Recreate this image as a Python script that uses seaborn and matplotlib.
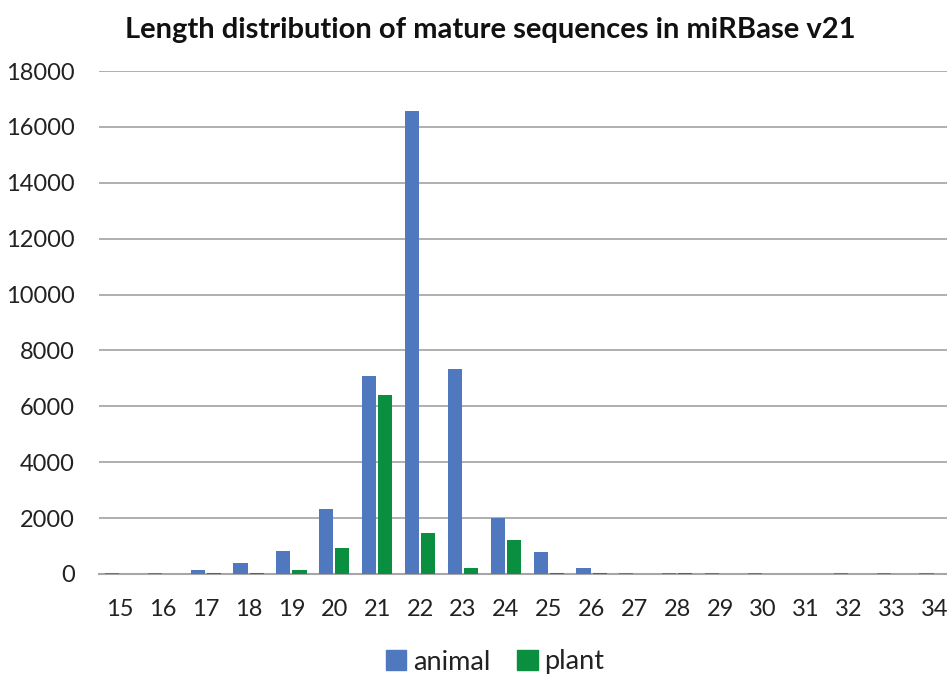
import pandas as pd
import matplotlib.pyplot as plt
import seaborn as sns

# === data ===
lengths = [15, 16, 17, 18, 19, 20, 21, 22, 23, 24, 25, 26, 27, 28, 29, 30, 31, 32, 33, 34]
animal = [50, 50, 140, 400, 820, 2330, 7090, 16570, 7340, 2000, 800, 200, 50, 50, 50, 50, 0, 50, 50, 50]
plant = [0, 0, 50, 50, 130, 930, 6400, 1470, 200, 1220, 50, 50, 0, 50, 0, 0, 0, 0, 0, 0]

df = pd.DataFrame({
    'length': [str(l) for l in lengths] * 2,
    'count': animal + plant,
    'group': ['animal'] * len(lengths) + ['plant'] * len(lengths),
})

sns.set_style('white')
plt.rcParams['font.family'] = ['Lato', 'DejaVu Sans']

fig = plt.figure(figsize=(9.47, 6.75), dpi=100)
ax = fig.add_axes([98.5 / 947, 1 - 574 / 675, 857.5 / 947, 503 / 675])

sns.barplot(
    data=df, x='length', y='count', hue='group',
    palette={'animal': '#5078BF', 'plant': '#0A8E40'},
    saturation=1, width=0.75, gap=0.12, linewidth=0,
    ax=ax, zorder=3, legend=False,
)

ax.set_ylim(0, 18000)
ax.set_yticks(range(0, 18001, 2000))
ax.yaxis.grid(True, color='#9a9a9a', linewidth=1.1, zorder=0)
ax.set_axisbelow(True)
for s in ['top', 'right', 'left']:
    ax.spines[s].set_visible(False)
ax.spines['bottom'].set_color('#a6a6a6')
ax.spines['bottom'].set_linewidth(1.5)
ax.tick_params(axis='both', length=0, labelsize=17, colors='#222222')
ax.tick_params(axis='x', pad=18)
ax.tick_params(axis='y', pad=17)
ax.set_xlabel('')
ax.set_ylabel('')

fig.text(490 / 947, 1 - 30 / 675, 'Length distribution of mature sequences in miRBase v21',
         ha='center', va='center', fontsize=21, fontweight='bold', color='#111111')

handles = [plt.Rectangle((0, 0), 1, 1, color='#5078BF'),
           plt.Rectangle((0, 0), 1, 1, color='#0A8E40')]
fig.legend(handles, ['animal', 'plant'], loc='center',
           bbox_to_anchor=(495 / 947, 1 - 662 / 675), frameon=False,
           ncol=2, fontsize=19.5, handlelength=0.75, handleheight=0.75,
           handletextpad=0.25, columnspacing=1.0, labelcolor='#222222')

fig.savefig('out.png', dpi=100)
